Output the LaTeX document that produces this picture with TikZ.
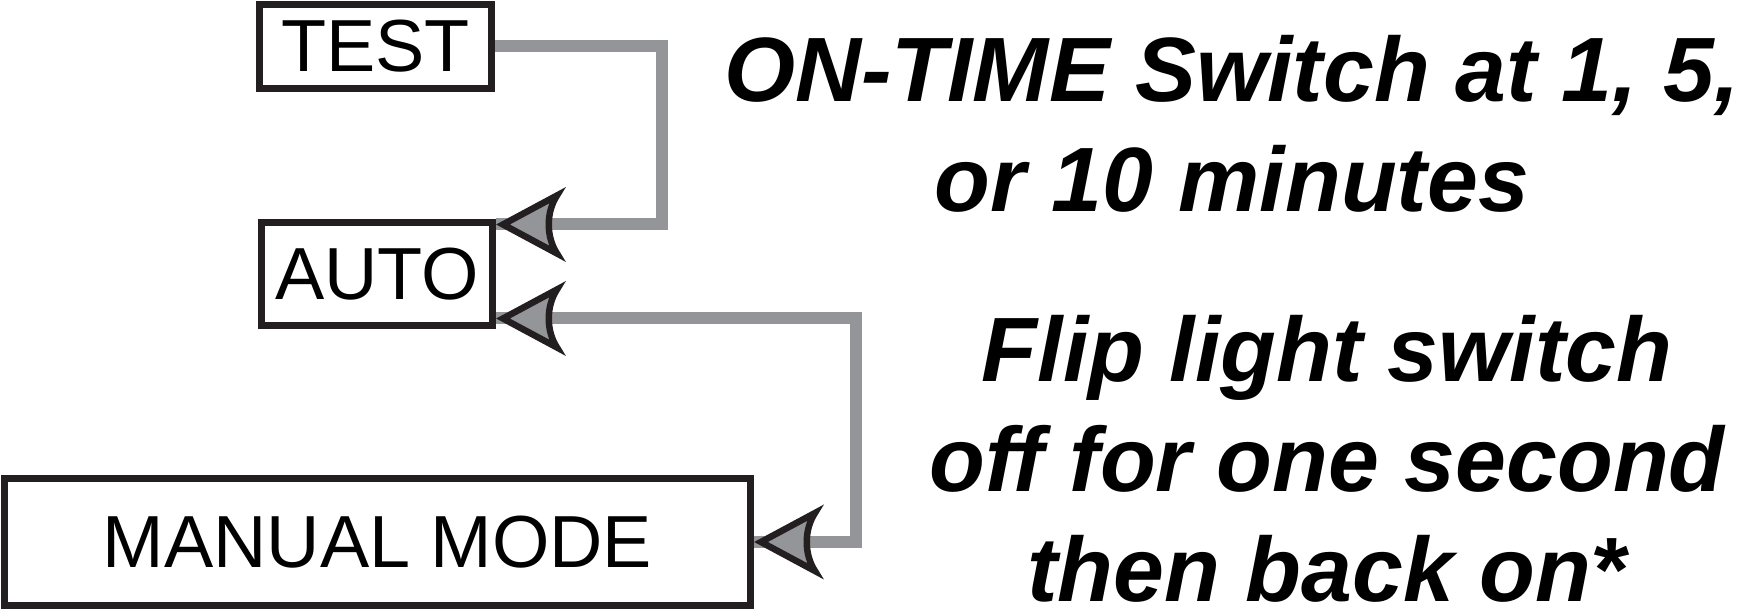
\documentclass[tikz,border=0pt]{standalone}
\usepackage{fontspec}
\setmainfont{Liberation Sans}
\newfontfamily\notefont{Liberation Sans}
\definecolor{wiregray}{HTML}{939598}
\definecolor{inkblack}{HTML}{231F20}
\tikzset{
    modebox/.style = {draw=inkblack, line width=0.14cm, fill=white, inner sep=0pt,
        font=\fontsize{42}{50}\selectfont},
    wire/.style = {draw=wiregray, line width=0.24cm},
    note/.style = {align=center, anchor=base, inner sep=0pt,
        font=\notefont\bfseries\itshape\fontsize{52}{62.6}\selectfont},
    head/.pic = {
        \draw[inkblack, fill=wiregray, line width=0.13cm]
            (0.14,0) -- (1.22,0.58) .. controls (1.0,0.25) and (1.0,-0.25) .. (1.22,-0.58) -- cycle;
    }
}
\begin{document}
\begin{tikzpicture}
    \useasboundingbox (0,0) rectangle (34.8,12.24);
    \node[modebox, minimum width=4.64cm, minimum height=1.68cm] (test) at (7.51,11.31) {TEST};
    \node[modebox, minimum width=4.62cm, minimum height=2.06cm] (auto) at (7.54,6.76) {AUTO};
    \node[modebox, minimum width=14.92cm, minimum height=2.54cm] (manual) at (7.55,1.40) {MANUAL MODE};
    \coordinate (tip1) at ([yshift=-0.11cm]auto.north east);
    \coordinate (tip2) at ([yshift=0.21cm]auto.south east);
    \draw[wire] (test.east) -| ([xshift=3.32cm]tip1) -- (tip1);
    \draw[wire] (tip2) -| ([xshift=2.04cm]manual.east) -- (manual.east);
    \foreach \p in {tip1,tip2,manual.east} {
        \pic at (\p) {head};
    }
    \node[note] (ontime) at (24.64,8.0) {ON-TIME Switch at 1, 5,\\or 10 minutes};
    \node[note] (flip) at (26.54,0.2) {Flip light switch\\off for one second\\then back on*};
\end{tikzpicture}
\end{document}
